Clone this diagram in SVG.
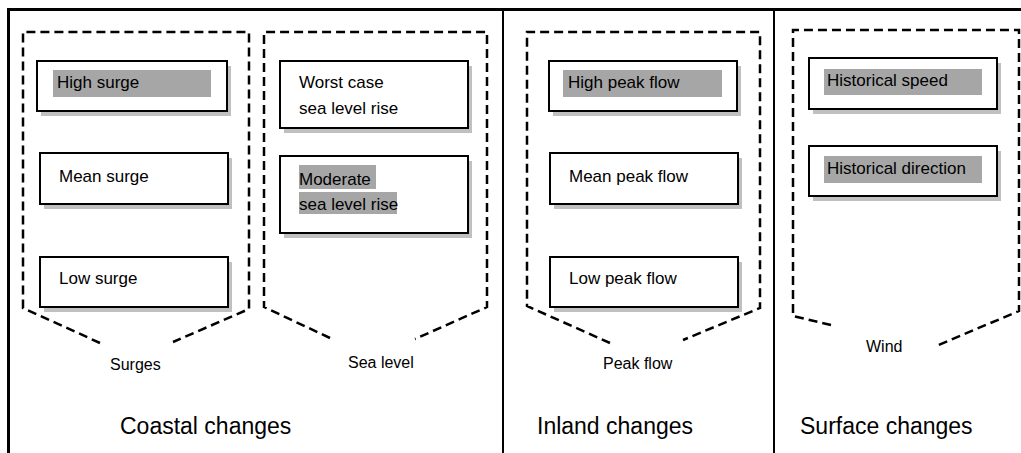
<svg xmlns="http://www.w3.org/2000/svg" width="1021" height="453" viewBox="0 0 1021 453">
<style>
.frame{fill:none;stroke:#000;stroke-width:3}
.div{stroke:#000;stroke-width:2}
.dash{fill:none;stroke:#000;stroke-width:2.5;stroke-dasharray:9 5}
.box{fill:#fff;stroke:#000;stroke-width:2}
.shadow{fill:#c0c0c0}
.hl{fill:#a6a6a6}
text{font-family:"Liberation Sans",Arial,sans-serif;fill:#000}
.t{font-size:17px}
.s{font-size:16px}
.big{font-size:23px}
</style>
<rect width="1021" height="453" fill="#fff"/>
<rect class="frame" x="8.5" y="9.5" width="1030" height="460"/>
<line class="div" x1="503" y1="10" x2="503" y2="453"/>
<line class="div" x1="774" y1="10" x2="774" y2="453"/>

<g id="connectors">
<path class="dash" d="M100,343 L23,308 L23,32 L249,32 L249,309 L173,342"/>
<path class="dash" d="M330,338 L264,307 L264,32 L487,32 L487,307 L415,339"/>
<path class="dash" d="M610,343 L527,306 L527,32 L760,32 L760,308 L683,340"/>
<path class="dash" d="M831,325 L793,316 L793,30 L1019,30 L1019,311 L936,346"/>
</g>

<g id="surges">
<text class="s" x="110" y="370">Surges</text>
<g id="high-surge"><rect class="shadow" x="41" y="66" width="190" height="50"/><rect class="box" x="37" y="61" width="190" height="50"/><rect class="hl" x="53" y="70" width="158" height="27"/><text class="t" x="57" y="88">High surge</text></g>
<g id="mean-surge"><rect class="shadow" x="44" y="158" width="188" height="51"/><rect class="box" x="40" y="153" width="188" height="51"/><text class="t" x="59" y="182">Mean surge</text></g>
<g id="low-surge"><rect class="shadow" x="44" y="262" width="188" height="50"/><rect class="box" x="40" y="257" width="188" height="50"/><text class="t" x="59" y="284">Low surge</text></g>
</g>

<g id="sea-level">
<text class="s" x="348" y="368">Sea level</text>
<g id="worst-case"><rect class="shadow" x="284" y="66" width="188" height="67"/><rect class="box" x="280" y="61" width="188" height="67"/><text class="t" x="299" y="88">Worst case</text><text class="t" x="299" y="114">sea level rise</text></g>
<g id="moderate"><rect class="shadow" x="284" y="161" width="188" height="77"/><rect class="box" x="280" y="156" width="188" height="77"/><rect class="hl" x="299" y="165" width="77" height="24"/><rect class="hl" x="299" y="192" width="98" height="22"/><text class="t" x="299" y="185">Moderate</text><text class="t" x="299" y="210">sea level rise</text></g>
</g>

<g id="peak-flow">
<text class="s" x="603" y="369">Peak flow</text>
<g id="high-peak"><rect class="shadow" x="553" y="66" width="188" height="50"/><rect class="box" x="549" y="61" width="188" height="50"/><rect class="hl" x="563" y="70" width="159" height="27"/><text class="t" x="568" y="88">High peak flow</text></g>
<g id="mean-peak"><rect class="shadow" x="554" y="158" width="188" height="51"/><rect class="box" x="550" y="153" width="188" height="51"/><text class="t" x="569" y="182">Mean peak flow</text></g>
<g id="low-peak"><rect class="shadow" x="554" y="262" width="188" height="50"/><rect class="box" x="550" y="257" width="188" height="50"/><text class="t" x="569" y="284">Low peak flow</text></g>
</g>

<g id="wind">
<text class="s" x="866" y="352">Wind</text>
<g id="hist-speed"><rect class="shadow" x="813" y="63" width="188" height="51"/><rect class="box" x="809" y="58" width="188" height="51"/><rect class="hl" x="824" y="69" width="158" height="26"/><text class="t" x="827" y="86">Historical speed</text></g>
<g id="hist-direction"><rect class="shadow" x="813" y="151" width="188" height="50"/><rect class="box" x="809" y="146" width="188" height="50"/><rect class="hl" x="824" y="156" width="158" height="27"/><text class="t" x="827" y="174">Historical direction</text></g>
</g>

<g id="headings">
<text class="big" x="120" y="434">Coastal changes</text>
<text class="big" x="537" y="434">Inland changes</text>
<text class="big" x="800" y="434">Surface changes</text>
</g>
</svg>
